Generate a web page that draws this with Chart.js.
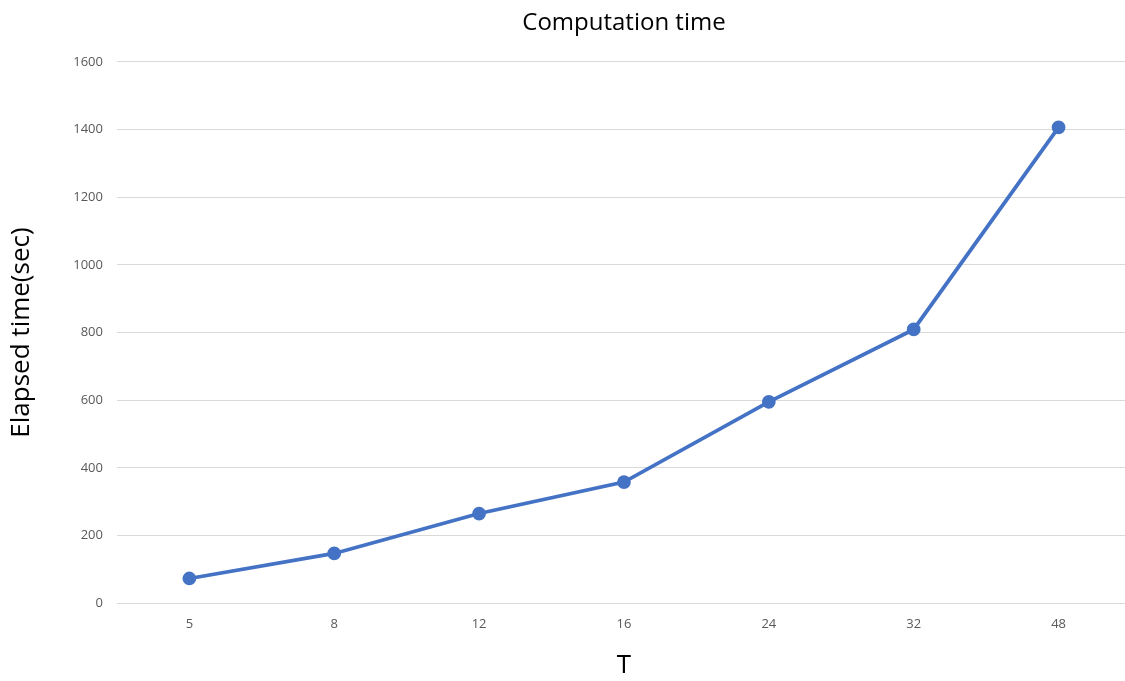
<!DOCTYPE html>
<html>
<head>
	<meta charset="utf-8" />
	<title>Computation time</title>
	<script src="https://cdn.jsdelivr.net/npm/chart.js"></script>
	<style>
		html, body { margin: 0; padding: 0; background: #fff; overflow: hidden; }
	</style>
</head>
<body>
	<canvas id="timeChart" width="1140" height="681"></canvas>
	<script>
		const tValues = ['5', '8', '12', '16', '24', '32', '48'];
		const elapsedSec = [73, 147, 265, 358, 595, 809, 1406];
		const yTicks = [0, 200, 400, 600, 800, 1000, 1200, 1400, 1600];

		const ctx = document.getElementById('timeChart').getContext('2d');
		new Chart(ctx, {
			type: 'line',
			data: {
				labels: tValues,
				datasets: [{
					label: 'Elapsed time',
					data: elapsedSec,
					borderColor: '#4472C4',
					backgroundColor: '#4472C4',
					borderWidth: 3.75,
					pointRadius: 5,
					pointHoverRadius: 5,
					tension: 0
				}]
			},
			options: {
				responsive: false,
				animation: false,
				layout: { padding: { top: 9, right: 9, bottom: 0, left: 6 } },
				plugins: {
					legend: { display: false },
					tooltip: { enabled: false },
					title: {
						display: true,
						text: 'Computation time',
						fullSize: false,
						color: '#000',
						font: { family: 'Open Sans', size: 24, weight: 'normal' },
						padding: { top: 0, bottom: 24 }
					}
				},
				scales: {
					x: {
						offset: true,
						grid: { display: false, drawTicks: false },
						border: { display: false },
						ticks: {
							color: '#595959',
							font: { family: 'Open Sans', size: 13 },
							padding: 13
						},
						title: {
							display: true,
							text: 'T',
							color: '#000',
							font: { family: 'Open Sans', size: 26 },
							padding: { top: 5, bottom: 0 }
						}
					},
					y: {
						min: 0,
						max: 1600,
						afterBuildTicks: axis => { axis.ticks = yTicks.map(v => ({ value: v })); },
						grid: { color: '#d9d9d9', lineWidth: 1, drawTicks: false },
						border: { display: false },
						ticks: {
							color: '#595959',
							font: { family: 'Open Sans', size: 13 },
							padding: 14,
							callback: v => String(v)
						},
						title: {
							display: true,
							text: 'Elapsed time(sec)',
							color: '#000',
							font: { family: 'Open Sans', size: 26 },
							padding: { top: 0, bottom: 22 }
						}
					}
				}
			}
		});
	</script>
</body>
</html>
